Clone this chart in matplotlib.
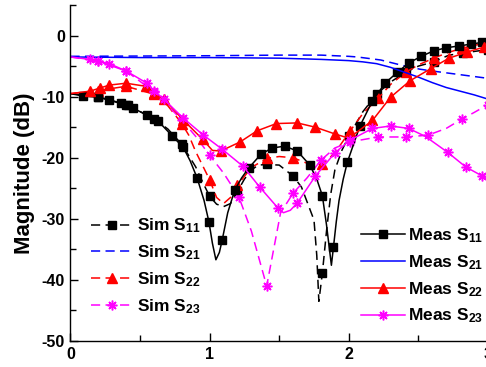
import numpy as np
import matplotlib
matplotlib.use("Agg")
import matplotlib.pyplot as plt

plt.rcParams['font.family'] = ['Liberation Sans', 'DejaVu Sans']
plt.rcParams['font.weight'] = 'bold'
plt.rcParams['mathtext.fontset'] = 'custom'
plt.rcParams['mathtext.rm'] = 'Liberation Sans:bold'
plt.rcParams['mathtext.bf'] = 'Liberation Sans:bold'
plt.rcParams['mathtext.default'] = 'rm'
plt.rcParams['axes.unicode_minus'] = False

# Simulated S-parameters (dB) vs frequency (GHz)
sim_s11_x = [0, 0.2, 0.4, 0.6, 0.7, 0.8, 0.9, 0.95, 1.0, 1.05, 1.1, 1.15, 1.2, 1.25, 1.3, 1.35,
             1.41, 1.5, 1.6, 1.66, 1.75, 1.77, 1.785, 1.81, 1.84, 1.87, 1.9, 1.95, 2.0, 2.1, 2.2,
             2.3, 2.41, 2.5, 2.61, 2.72, 2.82, 2.9, 3.0]
sim_s11_y = [-9.5, -10.0, -11.3, -13.6, -15.3, -17.8, -21.5, -24.0, -26.3, -27.6, -28.0, -27.5,
             -25.5, -23.5, -22.0, -21.2, -21.1, -21.2, -23.0, -24.8, -30.2, -36.0, -43.5, -38.9,
             -32.0, -26.0, -22.0, -18.8, -16.5, -12.5, -9.6, -7.6, -6.0, -5.0, -4.3, -3.2, -2.9,
             -2.6, -2.3]
sim_s11_mk = [0.2, 0.4, 0.6, 0.8, 1.0, 1.2, 1.41, 1.6, 1.81, 2.0, 2.2, 2.41, 2.61, 2.82, 3.0]

sim_s21_x = [0, 0.5, 1.0, 1.5, 1.8, 2.0, 2.06, 2.23, 2.37, 2.51, 2.6, 2.8, 3.0]
sim_s21_y = [-3.4, -3.35, -3.3, -3.2, -3.2, -3.4, -3.5, -4.0, -4.8, -5.5, -5.8, -6.4, -7.0]

sim_s22_x = [0, 0.2, 0.4, 0.6, 0.7, 0.8, 0.85, 0.9, 1.0, 1.05, 1.1, 1.15, 1.2, 1.3, 1.41, 1.5,
             1.6, 1.7, 1.81, 1.9, 2.01, 2.1, 2.21, 2.3, 2.41, 2.5, 2.61, 2.71, 2.81, 2.9, 3.0]
sim_s22_y = [-9.5, -9.0, -8.3, -9.6, -11.5, -14.4, -16.3, -19.0, -23.6, -26.5, -27.5, -26.5,
             -24.5, -21.6, -20.1, -19.8, -20.0, -20.9, -21.1, -19.2, -15.6, -12.8, -10.3, -8.0,
             -6.0, -4.8, -3.7, -2.8, -2.1, -1.6, -1.2]
sim_s22_mk = [0.2, 0.4, 0.6, 0.8, 1.0, 1.2, 1.41, 1.6, 1.81, 2.01, 2.21, 2.41, 2.61, 2.81, 3.0]

sim_s23_x = [0, 0.2, 0.4, 0.6, 0.8, 0.9, 1.0, 1.1, 1.21, 1.3, 1.41, 1.46, 1.51, 1.6, 1.7, 1.8,
             1.9, 2.01, 2.21, 2.41, 2.57, 2.7, 2.81, 2.9, 3.0]
sim_s23_y = [-3.5, -4.2, -5.8, -9.2, -13.8, -16.5, -19.6, -22.5, -26.4, -32.0, -41.0, -35.0,
             -29.0, -25.8, -23.3, -20.4, -18.4, -17.4, -16.6, -16.6, -16.3, -15.2, -13.7, -12.6,
             -11.3]
sim_s23_mk = [0.2, 0.4, 0.6, 0.8, 1.0, 1.21, 1.41, 1.6, 1.8, 2.01, 2.21, 2.41, 2.57, 2.81, 3.0]

# Measured S-parameters
meas_s11_x = [0, 0.09, 0.2, 0.28, 0.36, 0.41, 0.45, 0.55, 0.63, 0.73, 0.81, 0.86, 0.91, 0.96,
              0.995, 1.02, 1.045, 1.07, 1.09, 1.13, 1.18, 1.23, 1.28, 1.37, 1.45, 1.54, 1.63,
              1.72, 1.77, 1.81, 1.84, 1.875, 1.89, 1.91, 1.93, 1.96, 1.99, 2.08, 2.17, 2.26,
              2.35, 2.43, 2.52, 2.61, 2.70, 2.79, 2.88, 2.96, 3.0]
meas_s11_y = [-9.5, -9.9, -10.1, -10.6, -11.1, -11.4, -11.9, -13.0, -14.0, -16.4, -18.3, -20.5,
              -23.3, -27.0, -30.5, -34.0, -36.7, -35.5, -33.5, -29.0, -25.3, -23.3, -21.7, -19.4,
              -18.4, -18.1, -18.9, -21.2, -23.5, -26.2, -31.0, -37.6, -34.6, -30.5, -27.0, -23.5,
              -20.7, -14.8, -10.7, -7.8, -6.0, -4.5, -3.4, -2.5, -2.0, -1.7, -1.4, -1.1, -1.0]
meas_s11_mk = [0.09, 0.2, 0.28, 0.36, 0.41, 0.45, 0.55, 0.63, 0.73, 0.81, 0.91, 0.995, 1.09,
               1.18, 1.28, 1.37, 1.45, 1.54, 1.63, 1.72, 1.81, 1.89, 1.99, 2.08, 2.17, 2.26,
               2.35, 2.43, 2.52, 2.61, 2.70, 2.79, 2.88, 2.96]

meas_s21_x = [0, 0.5, 1.0, 1.5, 1.8, 2.0, 2.1, 2.2, 2.3, 2.4, 2.5, 2.6, 2.7, 2.8, 2.9, 3.0]
meas_s21_y = [-3.5, -3.6, -3.6, -3.7, -3.9, -4.1, -4.3, -4.6, -5.2, -6.0, -6.8, -7.7, -8.5,
              -9.1, -9.7, -10.4]

meas_s22_x = [0, 0.14, 0.21, 0.28, 0.4, 0.54, 0.6, 0.67, 0.81, 0.95, 1.02, 1.08, 1.22, 1.34,
              1.48, 1.63, 1.76, 1.9, 2.0, 2.17, 2.3, 2.44, 2.59, 2.72, 2.85, 2.97, 3.0]
meas_s22_y = [-9.5, -9.1, -8.6, -8.1, -7.8, -8.3, -9.4, -10.4, -13.8, -17.0, -18.8, -18.9,
              -17.4, -15.6, -14.4, -14.3, -15.0, -16.1, -16.8, -13.9, -10.1, -7.4, -5.4, -3.7,
              -2.7, -1.9, -1.8]
meas_s22_mk = [0.14, 0.21, 0.28, 0.4, 0.54, 0.6, 0.67, 0.81, 0.95, 1.08, 1.22, 1.34, 1.48,
               1.63, 1.76, 1.9, 2.17, 2.3, 2.44, 2.59, 2.72, 2.85, 2.97]

meas_s23_x = [0, 0.14, 0.2, 0.28, 0.4, 0.55, 0.6, 0.67, 0.81, 0.95, 1.09, 1.24, 1.36, 1.49,
              1.53, 1.58, 1.63, 1.76, 1.9, 2.01, 2.17, 2.3, 2.43, 2.55, 2.71, 2.84, 2.96, 3.0]
meas_s23_y = [-3.5, -3.9, -4.2, -4.6, -5.8, -7.8, -9.0, -10.4, -13.5, -16.2, -18.6, -21.4,
              -24.8, -28.2, -29.0, -28.6, -27.4, -23.0, -19.2, -17.1, -15.2, -14.8, -15.2,
              -16.5, -19.1, -21.5, -23.0, -23.3]
meas_s23_mk = [0.14, 0.2, 0.28, 0.4, 0.55, 0.6, 0.67, 0.81, 0.95, 1.09, 1.24, 1.36, 1.49,
               1.63, 1.76, 1.9, 2.01, 2.17, 2.3, 2.43, 2.71, 2.84, 2.96]

star = (8, 2, 0)
lw = 1.1
dash = (0, (6, 3.5))


def marks(x, mk):
    # indices of the points that carry a marker
    return list(np.nonzero(np.isin(np.round(x, 3), np.round(mk, 3)))[0])


fig = plt.figure(figsize=(4.86, 3.67), dpi=100)
ax = fig.add_axes([0.145, 0.0708, 0.859, 0.9155])

l1, = ax.plot(sim_s11_x, sim_s11_y, color='black', lw=lw, ls=dash, marker='s', ms=5.5,
              markevery=marks(sim_s11_x, sim_s11_mk), label='Sim S$_{11}$')
l2, = ax.plot(sim_s21_x, sim_s21_y, color='blue', lw=lw, ls=dash, label='Sim S$_{21}$')
l3, = ax.plot(sim_s22_x, sim_s22_y, color='red', lw=lw, ls=dash, marker='^', ms=6.5,
              markevery=marks(sim_s22_x, sim_s22_mk), label='Sim S$_{22}$')
l4, = ax.plot(sim_s23_x, sim_s23_y, color='magenta', lw=lw, ls=dash, marker=star, ms=7,
              mew=1.1, markevery=marks(sim_s23_x, sim_s23_mk), label='Sim S$_{23}$')

m1, = ax.plot(meas_s11_x, meas_s11_y, color='black', lw=lw, marker='s', ms=5.5,
              markevery=marks(meas_s11_x, meas_s11_mk), label='Meas S$_{11}$')
m2, = ax.plot(meas_s21_x, meas_s21_y, color='blue', lw=lw, label='Meas S$_{21}$')
m3, = ax.plot(meas_s22_x, meas_s22_y, color='red', lw=lw, marker='^', ms=6.5,
              markevery=marks(meas_s22_x, meas_s22_mk), label='Meas S$_{22}$')
m4, = ax.plot(meas_s23_x, meas_s23_y, color='magenta', lw=lw, marker=star, ms=7, mew=1.1,
              markevery=marks(meas_s23_x, meas_s23_mk), label='Meas S$_{23}$')

ax.set_xlim(0, 3)
ax.set_ylim(-50, 5)
ax.set_xticks([0, 1, 2, 3])
ax.set_xticks([0.5, 1.5, 2.5], minor=True)
ax.set_yticks([-50, -40, -30, -20, -10, 0])
ax.set_yticks([-45, -35, -25, -15, -5, 5], minor=True)
ax.tick_params(which='both', direction='in', width=1.0, labelsize=11.5, pad=4)
ax.tick_params(which='major', length=6)
ax.tick_params(which='minor', length=4)
for s in ['top', 'right']:
    ax.spines[s].set_visible(False)
for s in ['left', 'bottom']:
    ax.spines[s].set_linewidth(1.0)
ax.set_ylabel('Magnitude (dB)', fontsize=16, fontweight='bold')
ax.yaxis.set_label_coords(-0.085, 0.4985)

leg1 = ax.legend(handles=[l1, l2, l3, l4], loc='upper left', bbox_to_anchor=(0.048, 0.37),
                 frameon=False, fontsize=12.5, handlelength=2.5, handletextpad=0.2,
                 labelspacing=0.47, borderpad=0, borderaxespad=0)
ax.add_artist(leg1)
ax.legend(handles=[m1, m2, m3, m4], loc='upper left', bbox_to_anchor=(0.697, 0.342),
          frameon=False, fontsize=12.5, handlelength=2.5, handletextpad=0.2,
          labelspacing=0.47, borderpad=0, borderaxespad=0)

fig.savefig('out.png', dpi=100)
